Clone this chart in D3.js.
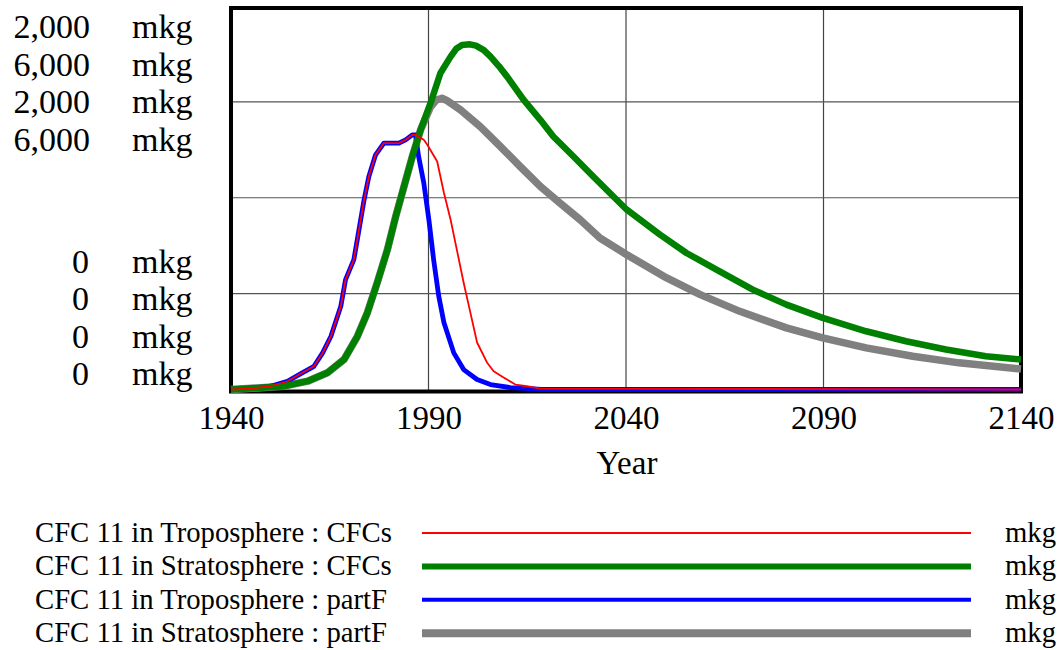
<!DOCTYPE html>
<html>
<head>
<meta charset="utf-8">
<script src="https://cdn.jsdelivr.net/npm/d3@7"></script>
<style>
  html, body { margin: 0; padding: 0; background: #fff; }
  svg { display: block; }
  text { font-family: "Liberation Serif", "Times New Roman", serif; fill: #000; }
</style>
</head>
<body>
<svg id="chart" width="1062" height="650"></svg>
<script>
// ---------------- DATA ----------------
const seriesNames = [
  "CFC 11 in Troposphere : CFCs",
  "CFC 11 in Stratosphere : CFCs",
  "CFC 11 in Troposphere : partF",
  "CFC 11 in Stratosphere : partF"
];
const unitLabel = "mkg";
const xTickValues = [1940, 1990, 2040, 2090, 2140];
const xAxisTitle = "Year";
const axisMaxLabels = ["2,000", "6,000", "2,000", "6,000"];
const axisMinLabels = ["0", "0", "0", "0"];
const axisMaxValues = [2000, 6000, 2000, 6000];

const tropoCFCsYears  = [1940,1945,1950,1954.3,1957.7,1961,1963.2,1965.3,1967.8,1969,1971.1,1972.4,1973.7,1974.9,1976.6,1978.7,1980.4,1982.5,1984.2,1985.9,1986.7,1988.8,1989.7,1992.2,1993.9,1995.6,1996.8,1998.9,2000.6,2002.3,2004.8,2006.5,2009,2012,2014.9,2018.3,2140];
const tropoCFCsValues = [0,5,17,43,83,121,191,278,434,573,677,833,990,1111,1224,1285,1285,1285,1302,1328,1328,1302,1276,1189,1026,885,766,557,401,245,141,95,63,26,17,5,0];

const stratoCFCsYears  = [1940,1947.6,1953.4,1959.4,1964.4,1968.6,1972,1974.5,1977,1979.6,1981.7,1983.8,1985.9,1988,1990.5,1993,1995.6,1997,1998.5,2000.5,2002,2004,2005.7,2007.8,2009.9,2014.1,2018.3,2021.6,2026.7,2031.7,2036.8,2040.2,2048.6,2055.3,2063.7,2072.1,2080.6,2089.8,2100.8,2110.9,2121,2131.1,2140];
const stratoCFCsValues = [0,27,52,130,261,469,833,1198,1667,2188,2708,3177,3645,4063,4480,4948,5208,5330,5391,5400,5380,5310,5208,5060,4895,4531,4219,3958,3645,3333,3020,2813,2422,2136,1848,1563,1328,1120,911,755,625,520,469];

const tropoPartFYears  = [1940,1945,1950,1954.3,1957.7,1961,1963.2,1965.3,1967.8,1969,1971.1,1972.4,1973.7,1974.9,1976.6,1978.7,1980.4,1982.5,1984.2,1985.9,1986.7,1987.5,1988.8,1990.1,1991.3,1992.6,1993.9,1996.4,1998.9,2002.3,2005.7,2010.7,2015.8,2018.5,2140];
const tropoPartFValues = [0,5,17,43,83,121,191,278,434,573,677,833,990,1111,1224,1285,1285,1285,1302,1328,1328,1215,1078,885,677,486,349,191,104,52,26,10,5,0,0];

const stratoPartFYears  = [1940,1947.6,1953.4,1959.4,1964.4,1968.6,1972,1974.5,1977,1979.6,1981.7,1983.8,1985.9,1988,1990.5,1992,1993.4,1994.7,1998.1,2003.1,2008.2,2013.2,2018.3,2023.3,2028.4,2033.4,2040.2,2050.3,2058.8,2068.8,2080.6,2089.8,2100.8,2112.6,2124.3,2140];
const stratoPartFValues = [0,27,52,130,261,469,833,1198,1667,2188,2708,3177,3645,4063,4420,4530,4557,4520,4375,4114,3802,3489,3177,2917,2656,2370,2109,1745,1484,1223,964,808,652,520,417,320];

// ---------------- LAYOUT / STYLE ----------------
const colors = ["#ff0000", "#008000", "#0000ff", "#808080"];
const plotWidths = [1.8, 6.5, 4.8, 7.5];
const legendWidths = [2, 6, 4, 8];
const drawOrder = [3, 2, 1, 0];

const svg = d3.select("#chart");
const plotLeft = 231, plotRight = 1021, plotTop = 6, plotBottom = 389.5;

const x = d3.scaleLinear().domain([1940, 2140]).range([plotLeft, plotRight]);
const yScales = axisMaxValues.map(m => d3.scaleLinear().domain([0, m]).range([plotBottom, plotTop]));

const allSeries = [
  {years: tropoCFCsYears, values: tropoCFCsValues},
  {years: stratoCFCsYears, values: stratoCFCsValues},
  {years: tropoPartFYears, values: tropoPartFValues},
  {years: stratoPartFYears, values: stratoPartFValues}
];

// grid
const gridG = svg.append("g");
gridG.selectAll("line.vg").data(xTickValues.slice(1, -1)).join("line")
  .attr("x1", d => x(d)).attr("x2", d => x(d))
  .attr("y1", plotTop).attr("y2", plotBottom + 1)
  .attr("stroke", "#444").attr("stroke-width", 1.2);
gridG.selectAll("line.hg").data([500, 1000, 1500]).join("line")
  .attr("x1", plotLeft).attr("x2", plotRight)
  .attr("y1", d => yScales[0](d)).attr("y2", d => yScales[0](d))
  .attr("stroke", "#555").attr("stroke-width", 1.2);

// frame
svg.append("rect")
  .attr("x", plotLeft).attr("y", 8)
  .attr("width", plotRight - plotLeft).attr("height", 391.5 - 8)
  .attr("fill", "none").attr("stroke", "#000").attr("stroke-width", 4);

// lines
const lineG = svg.append("g");
drawOrder.forEach(i => {
  const s = allSeries[i];
  const pts = s.years.map((yr, k) => [yr, s.values[k]]);
  const line = d3.line().x(d => x(d[0])).y(d => yScales[i](d[1]));
  lineG.append("path")
    .datum(pts)
    .attr("d", line)
    .attr("fill", "none")
    .attr("stroke", colors[i])
    .attr("stroke-width", plotWidths[i])
    .attr("stroke-linejoin", "round")
    .attr("stroke-linecap", "butt");
});

// x axis
const xAxis = d3.axisBottom(x).tickValues(xTickValues).tickFormat(d3.format("d")).tickSize(0).tickPadding(15);
const xg = svg.append("g").attr("transform", `translate(0,${391})`).call(xAxis);
xg.select(".domain").remove();
xg.selectAll("text").style("font-family", '"Liberation Serif", serif').style("font-size", "33px").attr("fill", "#000");

svg.append("text")
  .attr("x", (x(2040) + 1)).attr("y", 474)
  .attr("text-anchor", "middle")
  .style("font-size", "33px")
  .text(xAxisTitle);

// y axis stacked labels (Vensim-style)
const yLabG = svg.append("g").style("font-size", "34px");
axisMaxLabels.forEach((lab, i) => {
  const by = yScales[i](axisMaxValues[i]) + 32 + i * 37.6;
  yLabG.append("text").attr("x", 90).attr("y", by).attr("text-anchor", "end").text(lab);
  yLabG.append("text").attr("x", 132).attr("y", by).text(unitLabel);
});
axisMinLabels.forEach((lab, i) => {
  const by = yScales[i](0) - 4.5 - (axisMinLabels.length - 1 - i) * 37.3;
  yLabG.append("text").attr("x", 89).attr("y", by).attr("text-anchor", "end").text(lab);
  yLabG.append("text").attr("x", 132).attr("y", by).text(unitLabel);
});

// legend
const legG = svg.append("g").style("font-size", "28.7px");
seriesNames.forEach((name, i) => {
  const cy = 533 + i * 33.4;
  legG.append("text").attr("x", 35).attr("y", cy + 9).text(name);
  legG.append("line")
    .attr("x1", 422).attr("x2", 971)
    .attr("y1", cy).attr("y2", cy)
    .attr("stroke", colors[i]).attr("stroke-width", legendWidths[i]);
  legG.append("text").attr("x", 1005).attr("y", cy + 9).text(unitLabel);
});
</script>
</body>
</html>
